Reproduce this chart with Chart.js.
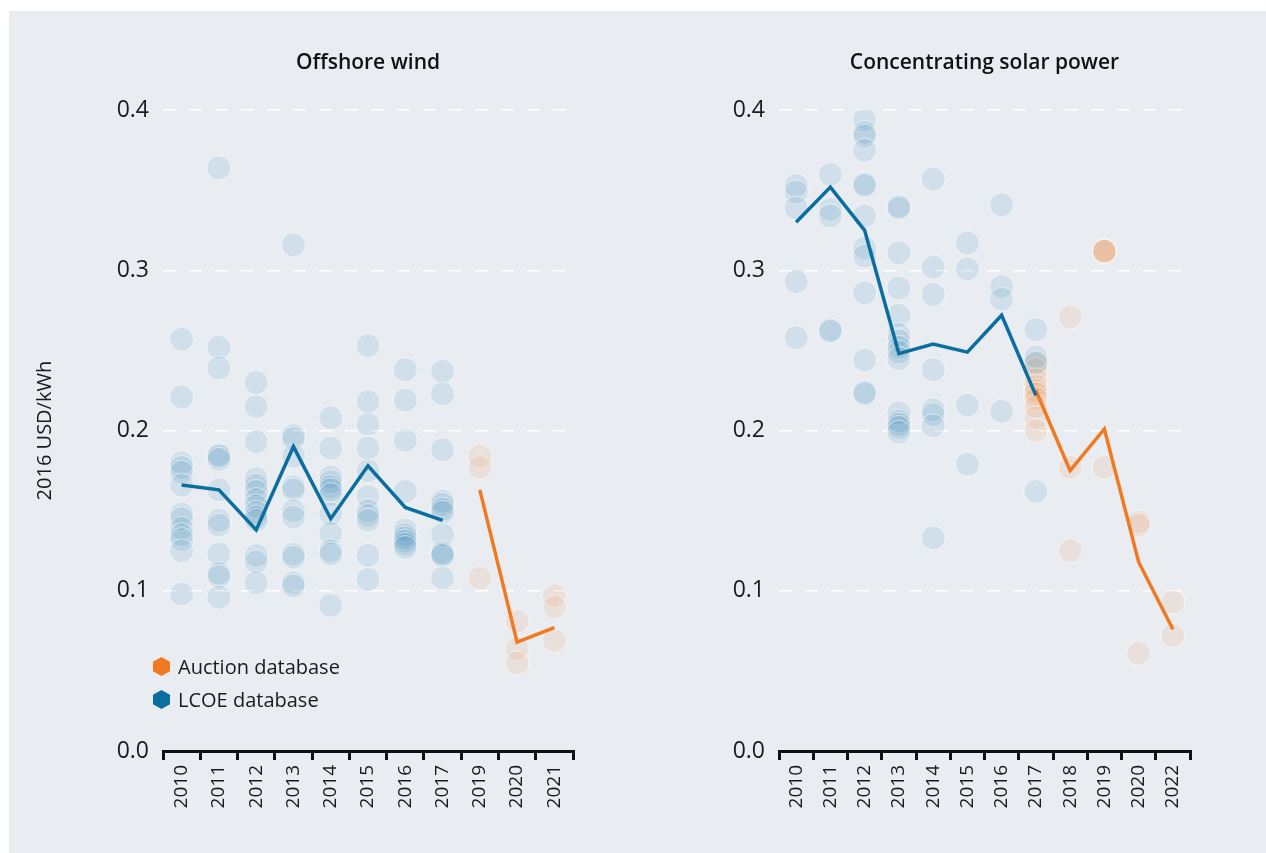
<!DOCTYPE html>
<html>
<head>
<meta charset="utf-8">
<script src="https://cdn.jsdelivr.net/npm/chart.js@4.4.1/dist/chart.umd.min.js"></script>
<style>
    body { margin: 0; width: 1266px; height: 853px; position: relative; overflow: hidden; background: #ffffff; font-family: 'Open Sans', sans-serif; }
    .panel { position: absolute; left: 9px; top: 11px; right: 0; bottom: 0; background: #e9edf2; }
    .box { position: absolute; top: 0; width: 633px; height: 853px; }
    #legend { position: absolute; left: 153px; top: 650px; font-size: 20px; color: #1a1a1a; }
    .item { display: flex; align-items: center; height: 33px; }
    .hex { width: 17px; height: 19px; margin-right: 8px; clip-path: polygon(50% 0, 100% 25%, 100% 75%, 50% 100%, 0 75%, 0 25%); }
</style>
</head>
<body>
<div class="panel"></div>
<div class="box" style="left:0"><canvas id="wind"></canvas></div>
<div class="box" style="left:633px"><canvas id="csp"></canvas></div>
<div id="legend">
    <div class="item"><span class="hex" style="background:#f07a22"></span>Auction database</div>
    <div class="item"><span class="hex" style="background:#0a6fa0"></span>LCOE database</div>
</div>
<script>
// Offshore wind, USD/kWh (2016 prices)
const windYears = ['2010', '2011', '2012', '2013', '2014', '2015', '2016', '2017', '2019', '2020', '2021'];
const windLcoeYears = ['2010', '2011', '2012', '2013', '2014', '2015', '2016', '2017'];
const windLcoeProjects = [
    [0.257, 0.221, 0.180, 0.177, 0.174, 0.166, 0.148, 0.145, 0.139, 0.135, 0.132, 0.125, 0.098],
    [0.364, 0.252, 0.239, 0.185, 0.184, 0.182, 0.163, 0.144, 0.141, 0.123, 0.111, 0.109, 0.096],
    [0.230, 0.215, 0.193, 0.170, 0.166, 0.162, 0.157, 0.153, 0.149, 0.146, 0.144, 0.122, 0.118, 0.105],
    [0.316, 0.197, 0.195, 0.184, 0.165, 0.163, 0.150, 0.146, 0.123, 0.121, 0.105, 0.103],
    [0.208, 0.189, 0.171, 0.168, 0.165, 0.163, 0.160, 0.148, 0.136, 0.125, 0.123, 0.091],
    [0.253, 0.218, 0.204, 0.189, 0.175, 0.159, 0.150, 0.147, 0.144, 0.122, 0.107],
    [0.238, 0.219, 0.194, 0.162, 0.138, 0.135, 0.133, 0.131, 0.129, 0.127],
    [0.237, 0.223, 0.188, 0.156, 0.154, 0.151, 0.149, 0.135, 0.124, 0.123, 0.122, 0.108]
];
const windLcoeAverage = [0.166, 0.163, 0.138, 0.190, 0.145, 0.178, 0.152, 0.144, null, null, null];
const windAuctionYears = ['2019', '2020', '2021'];
const windAuctionProjects = [
    [0.184, 0.177, 0.108],
    [0.081, 0.064, 0.055],
    [0.097, 0.090, 0.069]
];
const windAuctionAverage = [null, null, null, null, null, null, null, null, 0.163, 0.068, 0.077];

// Concentrating solar power, USD/kWh (2016 prices)
const cspYears = ['2010', '2011', '2012', '2013', '2014', '2015', '2016', '2017', '2018', '2019', '2020', '2022'];
const cspLcoeYears = ['2010', '2011', '2012', '2013', '2014', '2015', '2016', '2017'];
const cspLcoeProjects = [
    [0.353, 0.349, 0.339, 0.293, 0.258],
    [0.360, 0.338, 0.334, 0.263, 0.262],
    [0.394, 0.386, 0.384, 0.375, 0.354, 0.353, 0.334, 0.314, 0.309, 0.286, 0.244, 0.224, 0.223],
    [0.340, 0.339, 0.311, 0.289, 0.272, 0.260, 0.256, 0.252, 0.249, 0.245, 0.211, 0.206, 0.204, 0.202, 0.199],
    [0.357, 0.302, 0.285, 0.238, 0.213, 0.210, 0.203, 0.133],
    [0.317, 0.301, 0.216, 0.179],
    [0.341, 0.290, 0.282, 0.212],
    [0.263, 0.246, 0.242, 0.162]
];
const cspLcoeAverage = [0.330, 0.352, 0.325, 0.248, 0.254, 0.249, 0.272, 0.222, null, null, null, null];
const cspAuctionYears = ['2017', '2018', '2019', '2020', '2022'];
const cspAuctionProjects = [
    [0.243, 0.238, 0.232, 0.228, 0.225, 0.223, 0.220, 0.215, 0.208, 0.200],
    [0.271, 0.177, 0.125],
    [0.312, 0.312, 0.312, 0.312, 0.177],
    [0.143, 0.141, 0.061],
    [0.093, 0.072]
];
const cspAuctionAverage = [null, null, null, null, null, null, null, 0.225, 0.175, 0.201, 0.118, 0.076];

const yTicks = [0, 0.1, 0.2, 0.3, 0.4];

const BLUE = '#0a6fa0';
const ORANGE = '#f07a22';
const FONT = "'Open Sans', sans-serif";
const TEXT = '#1a1a1a';

// one {x, y} point per project so bubbles stack on their year
function toPoints(years, projects) {
    const out = [];
    years.forEach((yr, i) => projects[i].forEach(v => out.push({ x: yr, y: v })));
    return out;
}

function bubbles(data, rgb) {
    return {
        data: data,
        showLine: false,
        pointRadius: 12,
        pointHoverRadius: 12,
        pointBackgroundColor: 'rgba(' + rgb + ',0.11)',
        pointBorderColor: 'rgba(255,255,255,0.55)',
        pointBorderWidth: 1,
        clip: false,
        order: 2
    };
}

function trend(data, color) {
    return {
        data: data,
        borderColor: color,
        borderWidth: 3.5,
        pointRadius: 0,
        tension: 0,
        spanGaps: false,
        fill: false,
        clip: false,
        order: 0
    };
}

function makeChart(id, cfg) {
    return new Chart(document.getElementById(id), {
        type: 'line',
        data: {
            labels: cfg.labels,
            datasets: [
                bubbles(cfg.lcoePoints, '10,111,160'),
                bubbles(cfg.auctionPoints, '240,122,34'),
                trend(cfg.lcoeAvg, BLUE),
                trend(cfg.auctionAvg, ORANGE)
            ]
        },
        options: {
            responsive: true,
            maintainAspectRatio: false,
            animation: false,
            events: [],
            layout: { padding: { left: 0, right: cfg.padRight, top: 0, bottom: 0 } },
            plugins: {
                legend: { display: false },
                tooltip: { enabled: false },
                title: {
                    display: true,
                    text: cfg.title,
                    fullSize: false,
                    color: '#111',
                    font: { family: FONT, size: 21, weight: '600' },
                    padding: { top: 50, bottom: 35 }
                }
            },
            scales: {
                x: {
                    type: 'category',
                    offset: true,
                    afterFit: s => { s.height = 102; },
                    grid: { offset: true, drawOnChartArea: false, drawTicks: true, tickLength: 9, lineWidth: 3, color: '#111' },
                    border: { display: true, color: '#111', width: 3 },
                    ticks: { minRotation: 90, maxRotation: 90, autoSkip: false, padding: 5, color: TEXT, font: { family: FONT, size: 19 } }
                },
                y: {
                    min: 0,
                    max: 0.4,
                    afterFit: s => { s.width = cfg.yWidth; },
                    afterBuildTicks: s => { s.ticks = yTicks.map(v => ({ value: v })); },
                    grid: {
                        drawTicks: false,
                        lineWidth: 1.5,
                        color: c => (c.tick && c.tick.value === 0) ? 'rgba(0,0,0,0)' : '#ffffff'
                    },
                    border: { display: false, dash: [13, 13] },
                    ticks: { padding: 14, color: TEXT, font: { family: FONT, size: 23 }, callback: v => Number(v).toFixed(1) },
                    title: {
                        display: cfg.yTitle !== '',
                        text: cfg.yTitle,
                        color: TEXT,
                        font: { family: FONT, size: 20 },
                        padding: { top: 33, bottom: 0 }
                    }
                }
            }
        }
    });
}

makeChart('wind', {
    title: 'Offshore wind',
    labels: windYears,
    lcoePoints: toPoints(windLcoeYears, windLcoeProjects),
    auctionPoints: toPoints(windAuctionYears, windAuctionProjects),
    lcoeAvg: windLcoeAverage,
    auctionAvg: windAuctionAverage,
    yTitle: '2016 USD/kWh',
    yWidth: 163,
    padRight: 60
});

makeChart('csp', {
    title: 'Concentrating solar power',
    labels: cspYears,
    lcoePoints: toPoints(cspLcoeYears, cspLcoeProjects),
    auctionPoints: toPoints(cspAuctionYears, cspAuctionProjects),
    lcoeAvg: cspLcoeAverage,
    auctionAvg: cspAuctionAverage,
    yTitle: '',
    yWidth: 146,
    padRight: 76
});
</script>
</body>
</html>
